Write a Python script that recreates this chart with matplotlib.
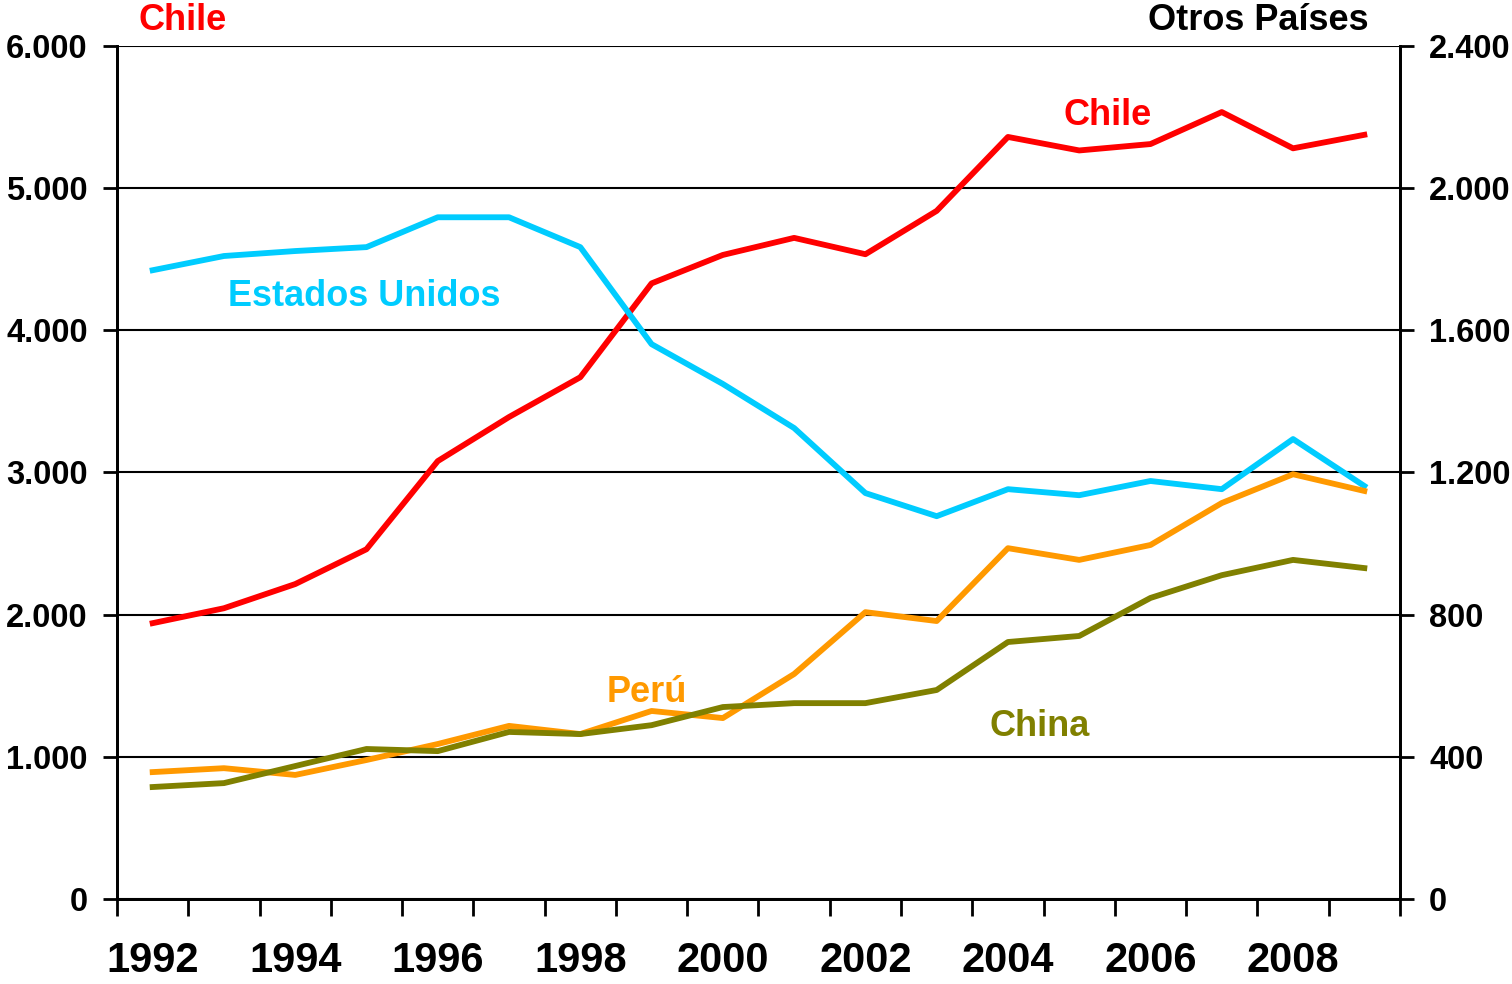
import matplotlib.pyplot as plt
from matplotlib.ticker import FuncFormatter
import numpy as np

plt.rcParams['font.family'] = ['Liberation Sans', 'DejaVu Sans']
plt.rcParams['font.weight'] = 'bold'

years = list(range(1992, 2010))
chile = [1940, 2045, 2215, 2460, 3080, 3390, 3670, 4330, 4530,
         4650, 4535, 4840, 5360, 5265, 5310, 5535, 5280, 5375]
eeuu = [1769, 1809, 1823, 1834, 1918, 1918, 1834, 1561, 1449,
        1325, 1142, 1077, 1153, 1136, 1176, 1153, 1294, 1162]
peru = [357, 368, 349, 391, 436, 487, 464, 529, 509,
        633, 807, 782, 987, 954, 996, 1114, 1195, 1148]
china = [315, 326, 374, 422, 416, 470, 464, 489, 540,
         551, 551, 588, 723, 740, 847, 911, 954, 931]

RED = '#FF0000'
CYAN = '#00CCFF'
ORANGE = '#FF9900'
OLIVE = '#808000'


def miles(v, pos):
    return f"{int(round(v)):,}".replace(',', '.')


fig = plt.figure(figsize=(15.12, 9.84), dpi=100)
ax = fig.add_axes([0.0774, 0.0864, 0.8485, 0.8669])
ax2 = ax.twinx()

x = np.arange(len(years))
lw = 4.2
ax.plot(x, chile, color=RED, lw=lw, zorder=3)
ax2.plot(x, eeuu, color=CYAN, lw=lw)
ax2.plot(x, peru, color=ORANGE, lw=lw)
ax2.plot(x, china, color=OLIVE, lw=lw)

ax.set_xlim(-0.5, len(years) - 0.5)
ax.set_ylim(0, 6000)
ax2.set_ylim(0, 2400)
ax.set_yticks(np.arange(0, 6001, 1000))
ax2.set_yticks(np.arange(0, 2401, 400))
ax.yaxis.set_major_formatter(FuncFormatter(miles))
ax2.yaxis.set_major_formatter(FuncFormatter(miles))

# category boundaries carry the tick marks, labels sit at every other year
ax.set_xticks(np.arange(-0.5, len(years), 1.0))
ax.set_xticklabels([])
ax.set_xticks(x[:-1:2], minor=True)
ax.set_xticklabels([str(y) for y in years[:-1:2]], minor=True)
ax.tick_params(axis='x', which='major', direction='out', length=12, width=2)
ax.tick_params(axis='x', which='minor', length=0, pad=30, labelsize=30)

ax.tick_params(axis='y', direction='out', length=10, width=2, pad=11, labelsize=23.5)
ax2.tick_params(axis='y', direction='out', length=10, width=2, pad=11, labelsize=23.5)

ax.grid(axis='y', color='black', lw=1.5)
ax.set_axisbelow(True)
for a in (ax, ax2):
    a.spines['top'].set_visible(False)
    for s in ('left', 'right', 'bottom'):
        a.spines[s].set_linewidth(2)

# inline series labels
ax.text(13.4, 5513, 'Chile', color=RED, fontsize=26, ha='center', va='center')
ax2.text(2.97, 1695, 'Estados Unidos', color=CYAN, fontsize=26, ha='center', va='center')
ax2.text(6.93, 582, 'Perú', color=ORANGE, fontsize=26, ha='center', va='center')
ax2.text(12.45, 484, 'China', color=OLIVE, fontsize=26, ha='center', va='center')

fig.text(0.121, 0.979, 'Chile', color=RED, fontsize=26, ha='center', va='center')
fig.text(0.905, 0.979, 'Otros Países', color='black', fontsize=26, ha='right', va='center')

fig.savefig('out.png', dpi=100)
